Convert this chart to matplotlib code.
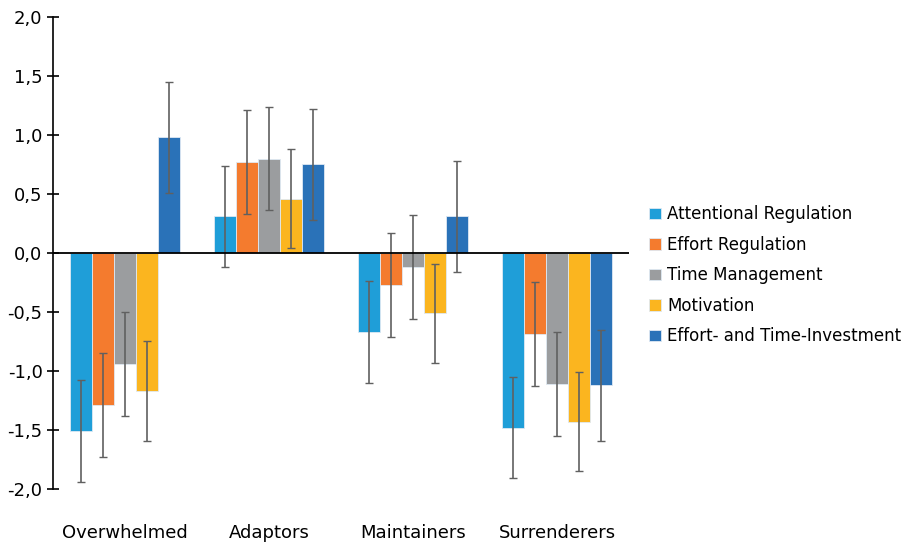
import matplotlib
matplotlib.use("Agg")
import matplotlib.pyplot as plt
import numpy as np
from matplotlib.ticker import FuncFormatter

plt.rcParams["font.family"] = ["DejaVu Sans"]

groups = ["Overwhelmed", "Adaptors", "Maintainers", "Surrenderers"]
series = ["Attentional Regulation", "Effort Regulation", "Time Management",
          "Motivation", "Effort- and Time-Investment"]

attentional = [-1.51, 0.31, -0.67, -1.48]
effort = [-1.29, 0.77, -0.27, -0.69]
time_mgmt = [-0.94, 0.80, -0.12, -1.11]
motivation = [-1.17, 0.46, -0.51, -1.43]
investment = [0.98, 0.75, 0.31, -1.12]

err_attentional = [0.43, 0.43, 0.43, 0.43]
err_effort = [0.44, 0.44, 0.44, 0.44]
err_time_mgmt = [0.44, 0.44, 0.44, 0.44]
err_motivation = [0.42, 0.42, 0.42, 0.42]
err_investment = [0.47, 0.47, 0.47, 0.47]

values = [attentional, effort, time_mgmt, motivation, investment]
errors = [err_attentional, err_effort, err_time_mgmt, err_motivation, err_investment]
colors = ["#1F9ED8", "#F47B2E", "#9B9D9F", "#FBB51F", "#2A72B8"]

fig = plt.figure(figsize=(9.13, 5.44), dpi=100)
ax = fig.add_axes([0.058, 0.101, 0.631, 0.868])

x = np.arange(len(groups))
width = 0.153
for i, (vals, errs, c, name) in enumerate(zip(values, errors, colors, series)):
    pos = x + (i - 2) * width
    ax.bar(pos, vals, width, color=c, edgecolor="#dfe9f3", linewidth=0.6, label=name)
    ax.errorbar(pos, vals, yerr=errs, fmt="none", ecolor="#606060",
                elinewidth=1.2, capsize=3, capthick=1.0)

ax.axhline(0, color="black", linewidth=1.3, zorder=5)
ax.set_xlim(-0.5, 3.5)
ax.set_ylim(-2.0, 2.0)
ax.set_yticks(np.arange(-2.0, 2.01, 0.5))
ax.yaxis.set_major_formatter(FuncFormatter(lambda v, p: f"{v:.1f}".replace(".", ",")))
ax.set_xticks(x)
ax.set_xticklabels(groups)

for s in ["top", "right", "bottom"]:
    ax.spines[s].set_visible(False)
ax.spines["left"].set_linewidth(1.2)
ax.tick_params(axis="y", direction="inout", length=9, width=1.2, labelsize=13, pad=3)
ax.tick_params(axis="x", length=0, labelsize=13, pad=25)

ax.legend(loc="center left", bbox_to_anchor=(0.711, 0.494),
          bbox_transform=fig.transFigure, frameon=False, borderpad=0,
          borderaxespad=0, fontsize=12, handlelength=0.7, handleheight=0.7,
          handletextpad=0.4, labelspacing=0.75)

fig.savefig("out.png", dpi=100)
